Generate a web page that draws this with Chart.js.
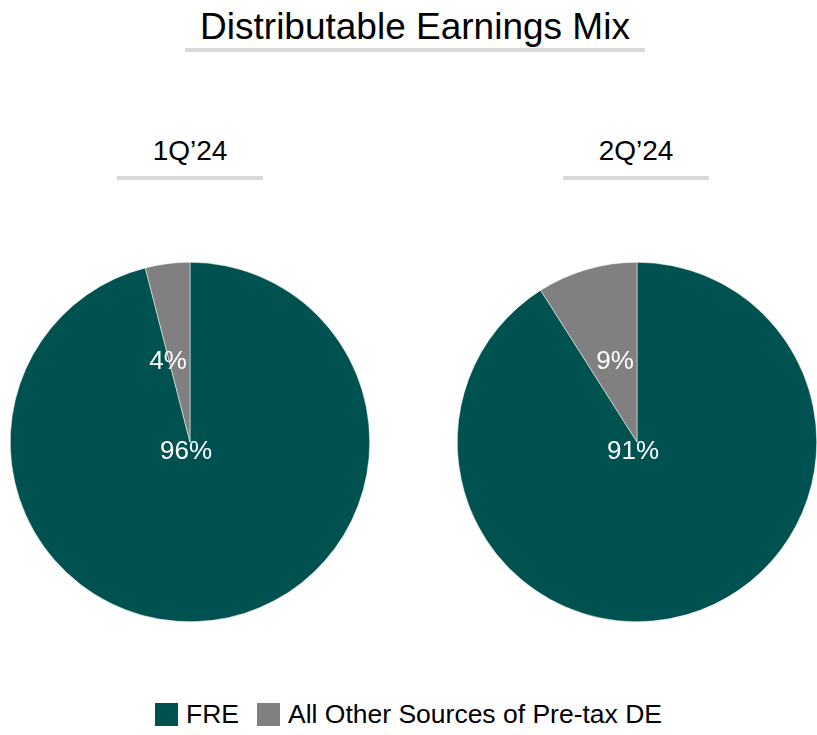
<!DOCTYPE html>
<html>
<head>
<meta charset="utf-8">
<script src="https://cdn.jsdelivr.net/npm/chart.js@4.4.0/dist/chart.umd.min.js"></script>
<style>
  body { margin: 0; background: #fff; font-family: "Liberation Sans", Arial, sans-serif; }
  #wrap { position: relative; width: 817px; height: 735px; }
  .title { position: absolute; top: 8px; left: 115px; width: 600px; text-align: center; font-size: 37px; line-height: 1; color: #000; }
  .uline { position: absolute; height: 4px; background: #d9d9d9; }
  .sub { position: absolute; top: 137px; width: 146px; text-align: center; font-size: 28px; line-height: 1; color: #000; }
  .pie { position: absolute; top: 252px; width: 380px; height: 380px; }
  #legend { position: absolute; top: 702px; left: 0; width: 817px; display: flex; justify-content: center; font-size: 26.5px; line-height: 25px; color: #000; }
  #legend .item { display: flex; align-items: center; margin: 0 9px; }
  #legend .box { display: inline-block; width: 23px; height: 23px; margin-right: 8px; }
</style>
</head>
<body>
<div id="wrap">
  <div class="title">Distributable Earnings Mix</div>
  <div class="uline" style="top:48px;left:185px;width:460px"></div>

  <div class="sub" style="left:117px">1Q’24</div>
  <div class="uline" style="top:176px;left:117px;width:146px"></div>
  <div class="sub" style="left:563px">2Q’24</div>
  <div class="uline" style="top:176px;left:563px;width:146px"></div>

  <div class="pie" style="left:0px"><canvas id="pie1"></canvas></div>
  <div class="pie" style="left:447px"><canvas id="pie2"></canvas></div>

  <div id="legend"></div>
</div>
<script>
// Data
const sources = ['FRE', 'All Other Sources of Pre-tax DE'];
const q1Values = [96, 4];
const q2Values = [91, 9];
const colors = ['#005250', '#808080'];

// draw the % labels inside the slices
const sliceLabels = {
  id: 'sliceLabels',
  afterDatasetsDraw(chart) {
    const ctx = chart.ctx;
    const meta = chart.getDatasetMeta(0);
    const data = chart.data.datasets[0].data;
    ctx.save();
    ctx.fillStyle = '#fff';
    ctx.font = '26px "Liberation Sans", Arial, sans-serif';
    ctx.textAlign = 'center';
    ctx.textBaseline = 'middle';
    meta.data.forEach((arc, i) => {
      const p = arc.getProps(['x', 'y', 'startAngle', 'endAngle', 'outerRadius'], true);
      const mid = (p.startAngle + p.endAngle) / 2;
      let x, y;
      if (data[i] > 50) {
        // big slice: label just below the centre
        x = p.x - 4;
        y = p.y + 10;
      } else {
        // small slice: keep the label clear of the edge line
        const top = -Math.PI / 2;
        const off = Math.max(top - mid, 14 * Math.PI / 180);
        const a = top - off;
        const dist = 0.46 * p.outerRadius;
        x = p.x + Math.cos(a) * dist - 2;
        y = p.y + Math.sin(a) * dist;
      }
      ctx.fillText(data[i] + '%', x, y);
    });
    ctx.restore();
  }
};

function makePie(id, values) {
  return new Chart(document.getElementById(id), {
    type: 'pie',
    data: {
      labels: sources,
      datasets: [{
        data: values,
        backgroundColor: colors,
        borderColor: '#ffffff',
        borderWidth: 0.5
      }]
    },
    options: {
      responsive: true,
      maintainAspectRatio: false,
      animation: false,
      layout: { padding: 10 },
      plugins: {
        legend: { display: false },
        tooltip: { enabled: false }
      }
    },
    plugins: [sliceLabels]
  });
}

makePie('pie1', q1Values);
makePie('pie2', q2Values);

// legend
const legend = document.getElementById('legend');
legend.innerHTML = sources.map((s, i) =>
  '<span class="item"><span class="box" style="background:' + colors[i] + '"></span>' + s + '</span>'
).join('');
</script>
</body>
</html>
